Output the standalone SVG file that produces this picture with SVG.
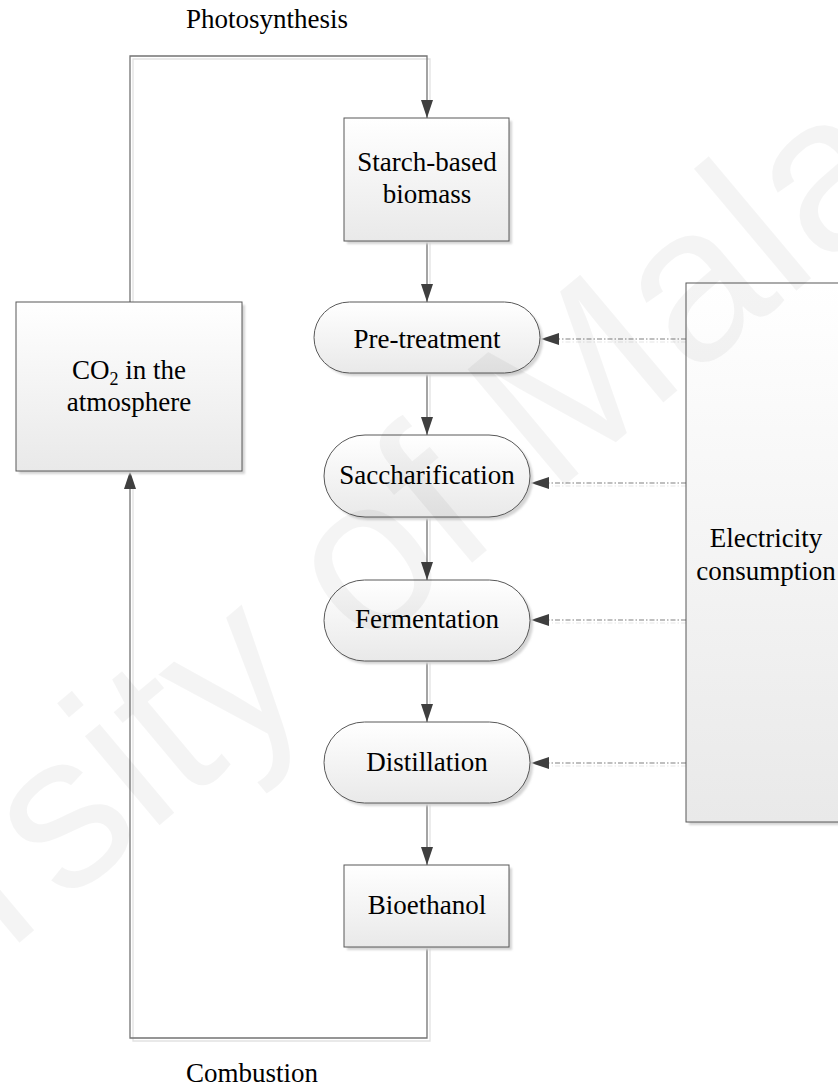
<svg xmlns="http://www.w3.org/2000/svg" width="838" height="1088" viewBox="0 0 838 1088">
  <style>
    .node { fill: url(#fillGrad); stroke: #595959; stroke-width: 1; }
    .shadow { fill: #d4d4d4; filter: url(#soft); }
    .label { font-family: "Liberation Serif", "Times New Roman", serif; font-size: 27px; fill: #000; text-anchor: middle; }
    .flow { fill: none; stroke: #737373; stroke-width: 1.3; }
    .flowShadow { fill: none; stroke: #e2e2e2; stroke-width: 1.3; }
    .supply { fill: none; stroke: #808080; stroke-width: 1.2; stroke-dasharray: 5 2 1.5 2; }
    .supplyShadow { fill: none; stroke: #e6e6e6; stroke-width: 1.2; stroke-dasharray: 5 2 1.5 2; }
    .mark { font-family: "Liberation Sans", Arial, sans-serif; font-size: 220px; fill: #000; fill-opacity: 0.045; }
  </style>
  <defs>
    <linearGradient id="fillGrad" x1="0" y1="0" x2="0" y2="1">
      <stop offset="0" stop-color="#ffffff"/>
      <stop offset="1" stop-color="#e9e9e9"/>
    </linearGradient>
    <filter id="soft" x="-10%" y="-10%" width="120%" height="120%">
      <feGaussianBlur stdDeviation="1"/>
    </filter>
    <!-- filled head pointing along the line direction; tip sits on the path end -->
    <marker id="arrow" markerUnits="userSpaceOnUse" markerWidth="20" markerHeight="14" viewBox="0 0 20 14" refX="19" refY="7" orient="auto">
      <path d="M1,1 L19,7 L1,13 Z" fill="#3f3f3f"/>
    </marker>
  </defs>

  <rect width="838" height="1088" fill="#ffffff"/>

  <!-- connectors -->
  <g id="connectors">
    <!-- soft offset shadows of the flow lines -->
    <path class="flowShadow" d="M133,302 V59 H430 V100"/>
    <path class="flowShadow" d="M430,241 V284"/>
    <path class="flowShadow" d="M430,373 V417"/>
    <path class="flowShadow" d="M430,517 V562"/>
    <path class="flowShadow" d="M430,661 V704"/>
    <path class="flowShadow" d="M430,803 V847"/>
    <path class="flowShadow" d="M430,947 V1041 H133 V489"/>

    <path class="flow" d="M130,302 V56 H427 V118" marker-end="url(#arrow)"/>
    <path class="flow" d="M427,241 V302" marker-end="url(#arrow)"/>
    <path class="flow" d="M427,373 V435" marker-end="url(#arrow)"/>
    <path class="flow" d="M427,517 V580" marker-end="url(#arrow)"/>
    <path class="flow" d="M427,661 V722" marker-end="url(#arrow)"/>
    <path class="flow" d="M427,803 V865" marker-end="url(#arrow)"/>
    <path class="flow" d="M427,947 V1038 H130 V471" marker-end="url(#arrow)"/>

    <!-- electricity supply lines -->
    <path class="supplyShadow" d="M686,342 H562"/>
    <path class="supplyShadow" d="M686,486 H552"/>
    <path class="supplyShadow" d="M686,623 H552"/>
    <path class="supplyShadow" d="M686,766 H552"/>
    <path class="supply" d="M686,339 H541" marker-end="url(#arrow)"/>
    <path class="supply" d="M686,483 H531" marker-end="url(#arrow)"/>
    <path class="supply" d="M686,620 H531" marker-end="url(#arrow)"/>
    <path class="supply" d="M686,763 H531" marker-end="url(#arrow)"/>
  </g>

  <text class="label" x="267" y="28">Photosynthesis</text>
  <text class="label" x="252" y="1082">Combustion</text>

  <g id="co2">
    <rect class="shadow" x="19" y="305" width="226" height="169"/>
    <rect class="node" x="16" y="302" width="226" height="169"/>
    <text class="label" x="129" y="379">CO<tspan font-size="18" dy="6">2</tspan><tspan dy="-6"> in the</tspan></text>
    <text class="label" x="129" y="411">atmosphere</text>
  </g>

  <g id="starch">
    <rect class="shadow" x="347" y="121" width="165" height="123"/>
    <rect class="node" x="344" y="118" width="165" height="123"/>
    <text class="label" x="427" y="171">Starch-based</text>
    <text class="label" x="427" y="203">biomass</text>
  </g>

  <g id="pretreatment">
    <rect class="shadow" x="317" y="305" width="226" height="71" rx="35.5"/>
    <rect class="node" x="314" y="302" width="226" height="71" rx="35.5"/>
    <text class="label" x="427" y="348">Pre-treatment</text>
  </g>

  <g id="saccharification">
    <rect class="shadow" x="327" y="438" width="206" height="82" rx="41"/>
    <rect class="node" x="324" y="435" width="206" height="82" rx="41"/>
    <text class="label" x="427" y="484">Saccharification</text>
  </g>

  <g id="fermentation">
    <rect class="shadow" x="327" y="583" width="206" height="81" rx="40.5"/>
    <rect class="node" x="324" y="580" width="206" height="81" rx="40.5"/>
    <text class="label" x="427" y="628">Fermentation</text>
  </g>

  <g id="distillation">
    <rect class="shadow" x="327" y="725" width="206" height="81" rx="40.5"/>
    <rect class="node" x="324" y="722" width="206" height="81" rx="40.5"/>
    <text class="label" x="427" y="771">Distillation</text>
  </g>

  <g id="bioethanol">
    <rect class="shadow" x="347" y="868" width="165" height="82"/>
    <rect class="node" x="344" y="865" width="165" height="82"/>
    <text class="label" x="427" y="914">Bioethanol</text>
  </g>

  <g id="electricity">
    <rect class="shadow" x="689" y="286" width="170" height="539"/>
    <rect class="node" x="686" y="283" width="170" height="539"/>
    <text class="label" x="766" y="547">Electricity</text>
    <text class="label" x="766" y="580">consumption</text>
  </g>

  <!-- faint institutional watermark -->
  <text class="mark" transform="translate(-423,1314) rotate(-40)">University of Malaya</text>
</svg>
